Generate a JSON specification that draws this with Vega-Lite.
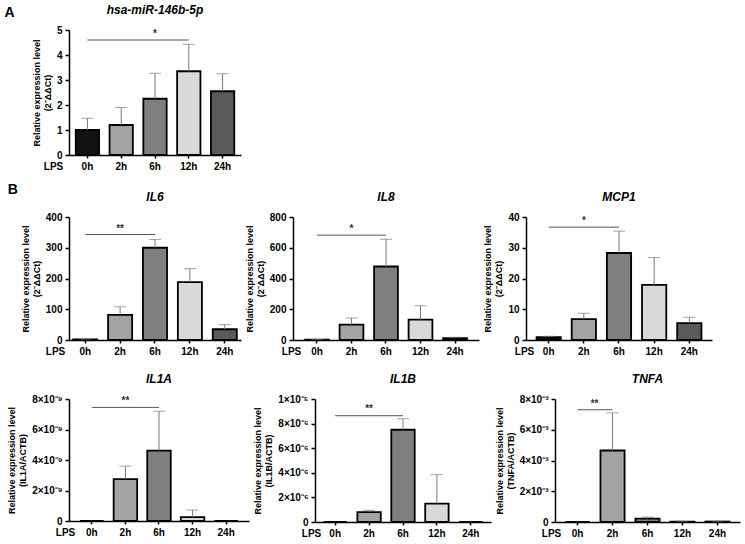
{
  "$schema": "https://vega.github.io/schema/vega-lite/v6.json",
  "background": "white",
  "padding": {"left": 4, "top": 4, "right": 4, "bottom": 2},
  "datasets": {
    "bars": [
      {"gene": "miR146b", "time": "0h", "value": 1.0, "upper": 1.47},
      {"gene": "miR146b", "time": "2h", "value": 1.2, "upper": 1.9},
      {"gene": "miR146b", "time": "6h", "value": 2.25, "upper": 3.27},
      {"gene": "miR146b", "time": "12h", "value": 3.35, "upper": 4.43},
      {"gene": "miR146b", "time": "24h", "value": 2.55, "upper": 3.25},
      {"gene": "IL6", "time": "0h", "value": 2, "upper": 3},
      {"gene": "IL6", "time": "2h", "value": 82, "upper": 108},
      {"gene": "IL6", "time": "6h", "value": 300, "upper": 327},
      {"gene": "IL6", "time": "12h", "value": 188, "upper": 232},
      {"gene": "IL6", "time": "24h", "value": 35, "upper": 50},
      {"gene": "IL8", "time": "0h", "value": 3, "upper": 4},
      {"gene": "IL8", "time": "2h", "value": 100, "upper": 143},
      {"gene": "IL8", "time": "6h", "value": 478, "upper": 655},
      {"gene": "IL8", "time": "12h", "value": 133, "upper": 223},
      {"gene": "IL8", "time": "24h", "value": 12, "upper": 18},
      {"gene": "MCP1", "time": "0h", "value": 0.9, "upper": 1.2},
      {"gene": "MCP1", "time": "2h", "value": 6.8, "upper": 8.7},
      {"gene": "MCP1", "time": "6h", "value": 28.3, "upper": 35.4},
      {"gene": "MCP1", "time": "12h", "value": 17.9, "upper": 26.8},
      {"gene": "MCP1", "time": "24h", "value": 5.5, "upper": 7.4},
      {"gene": "IL1A", "time": "0h", "value": 0, "upper": 0},
      {"gene": "IL1A", "time": "2h", "value": 2.75e-9, "upper": 3.6e-9},
      {"gene": "IL1A", "time": "6h", "value": 4.62e-9, "upper": 7.2e-9},
      {"gene": "IL1A", "time": "12h", "value": 0.25e-9, "upper": 0.72e-9},
      {"gene": "IL1A", "time": "24h", "value": 0, "upper": 0},
      {"gene": "IL1B", "time": "0h", "value": 0, "upper": 0},
      {"gene": "IL1B", "time": "2h", "value": 0.8e-6, "upper": 0.95e-6},
      {"gene": "IL1B", "time": "6h", "value": 7.5e-6, "upper": 8.4e-6},
      {"gene": "IL1B", "time": "12h", "value": 1.5e-6, "upper": 3.85e-6},
      {"gene": "IL1B", "time": "24h", "value": 0, "upper": 0},
      {"gene": "TNFA", "time": "0h", "value": 0, "upper": 0},
      {"gene": "TNFA", "time": "2h", "value": 4.65e-3, "upper": 7.1e-3},
      {"gene": "TNFA", "time": "6h", "value": 0.22e-3, "upper": 0.32e-3},
      {"gene": "TNFA", "time": "12h", "value": 0.03e-3, "upper": 0.05e-3},
      {"gene": "TNFA", "time": "24h", "value": 0.03e-3, "upper": 0.05e-3}
    ],
    "sig": [
      {"gene": "miR146b", "from": "0h", "to": "12h", "mid": "6h", "y": 4.6, "ystar": 4.85, "label": "*"},
      {"gene": "IL6", "from": "0h", "to": "6h", "mid": "2h", "y": 343, "ystar": 362, "label": "**"},
      {"gene": "IL8", "from": "0h", "to": "6h", "mid": "2h", "y": 682, "ystar": 722, "label": "*"},
      {"gene": "MCP1", "from": "0h", "to": "6h", "mid": "2h", "y": 36.7, "ystar": 38.7, "label": "*"},
      {"gene": "IL1A", "from": "0h", "to": "6h", "mid": "2h", "y": 7.45e-9, "ystar": 7.85e-9, "label": "**"},
      {"gene": "IL1B", "from": "0h", "to": "6h", "mid": "2h", "y": 8.64e-6, "ystar": 9.15e-6, "label": "**"},
      {"gene": "TNFA", "from": "0h", "to": "2h", "mid": "0h", "y": 7.3e-3, "ystar": 7.7e-3, "label": "**"}
    ]
  },
  "spacing": 12,
  "vconcat": [
    {
      "title": {"text": "A", "anchor": "start", "fontStyle": "normal", "fontSize": 14, "offset": -16, "dx": -28},
      "vconcat": [
        {
          "width": 172,
          "height": 125,
          "title": "hsa-miR-146b-5p",
          "layer": [
            {
              "data": {"name": "bars"},
              "transform": [{"filter": "datum.gene === 'miR146b'"}],
              "mark": {"type": "bar", "stroke": "black", "strokeWidth": 1.8},
              "encoding": {
                "x": {"field": "time", "type": "nominal", "title": "LPS", "scale": {"domain": ["0h", "2h", "6h", "12h", "24h"], "paddingInner": 0.31, "paddingOuter": 0.2}, "axis": {"labelAngle": 0, "tickSize": 3, "titleX": -16, "titleY": 11, "titleAlign": "center", "titleBaseline": "middle", "titleFontSize": 10}},
                "y": {"field": "value", "type": "quantitative", "title": ["Relative expression level", "(2⁻ΔΔCt)"], "scale": {"domain": [0, 5], "nice": false}, "axis": {"values": [0, 1, 2, 3, 4, 5]}},
                "color": {"field": "time", "type": "nominal", "scale": {"domain": ["0h", "2h", "6h", "12h", "24h"], "range": ["#111111", "#a3a3a3", "#7f7f7f", "#d9d9d9", "#5a5a5a"]}, "legend": null}
              }
            },
            {
              "data": {"name": "bars"},
              "transform": [{"filter": "datum.gene === 'miR146b' && datum.upper > datum.value"}],
              "mark": {"type": "rule", "color": "#7a7a7a", "strokeWidth": 1},
              "encoding": {
                "x": {"field": "time", "type": "nominal", "title": "LPS"},
                "y": {"field": "value", "type": "quantitative", "axis": {"values": [0, 1, 2, 3, 4, 5]}},
                "y2": {"field": "upper"}
              }
            },
            {
              "data": {"name": "bars"},
              "transform": [{"filter": "datum.gene === 'miR146b' && datum.upper > datum.value"}],
              "mark": {"type": "tick", "color": "#7a7a7a", "thickness": 1},
              "encoding": {
                "x": {"field": "time", "type": "nominal", "title": "LPS"},
                "y": {"field": "upper", "type": "quantitative", "axis": {"values": [0, 1, 2, 3, 4, 5]}},
                "size": {"value": 12}
              }
            },
            {
              "data": {"name": "sig"},
              "transform": [{"filter": "datum.gene === 'miR146b'"}],
              "mark": {"type": "rule", "color": "#555555", "strokeWidth": 1},
              "encoding": {
                "x": {"field": "from", "type": "nominal", "title": "LPS"},
                "x2": {"field": "to"},
                "y": {"field": "y", "type": "quantitative", "axis": {"values": [0, 1, 2, 3, 4, 5]}}
              }
            },
            {
              "data": {"name": "sig"},
              "transform": [{"filter": "datum.gene === 'miR146b'"}],
              "mark": {"type": "text", "fontSize": 10, "fontWeight": "bold", "color": "#333333", "baseline": "middle"},
              "encoding": {
                "x": {"field": "mid", "type": "nominal", "title": "LPS"},
                "y": {"field": "ystar", "type": "quantitative", "axis": {"values": [0, 1, 2, 3, 4, 5]}},
                "text": {"field": "label"}
              }
            }
          ]
        }
      ]
    },
    {
      "title": {"text": "B", "anchor": "start", "fontStyle": "normal", "fontSize": 14, "offset": -6},
      "spacing": 17,
      "vconcat": [
        {
          "spacing": 4,
          "hconcat": [
            {
              "width": 172,
              "height": 123,
              "title": "IL6",
              "layer": [
                {
                  "data": {"name": "bars"},
                  "transform": [{"filter": "datum.gene === 'IL6'"}],
                  "mark": {"type": "bar", "stroke": "black", "strokeWidth": 1.8},
                  "encoding": {
                    "x": {"field": "time", "type": "nominal", "title": "LPS", "scale": {"domain": ["0h", "2h", "6h", "12h", "24h"], "paddingInner": 0.31, "paddingOuter": 0.12}, "axis": {"labelAngle": 0, "tickSize": 3, "titleX": -14, "titleY": 11, "titleAlign": "center", "titleBaseline": "middle", "titleFontSize": 10}},
                    "y": {"field": "value", "type": "quantitative", "title": ["Relative expression level", "(2⁻ΔΔCt)"], "scale": {"domain": [0, 400], "nice": false}, "axis": {"values": [0, 100, 200, 300, 400]}},
                    "color": {"field": "time", "type": "nominal", "scale": {"domain": ["0h", "2h", "6h", "12h", "24h"], "range": ["#111111", "#a3a3a3", "#7f7f7f", "#d9d9d9", "#5a5a5a"]}, "legend": null}
                  }
                },
                {
                  "data": {"name": "bars"},
                  "transform": [{"filter": "datum.gene === 'IL6' && datum.upper > datum.value"}],
                  "mark": {"type": "rule", "color": "#7a7a7a", "strokeWidth": 1},
                  "encoding": {
                    "x": {"field": "time", "type": "nominal", "title": "LPS"},
                    "y": {"field": "value", "type": "quantitative", "axis": {"values": [0, 100, 200, 300, 400]}},
                    "y2": {"field": "upper"}
                  }
                },
                {
                  "data": {"name": "bars"},
                  "transform": [{"filter": "datum.gene === 'IL6' && datum.upper > datum.value"}],
                  "mark": {"type": "tick", "color": "#7a7a7a", "thickness": 1},
                  "encoding": {
                    "x": {"field": "time", "type": "nominal", "title": "LPS"},
                    "y": {"field": "upper", "type": "quantitative", "axis": {"values": [0, 100, 200, 300, 400]}},
                    "size": {"value": 12}
                  }
                },
                {
                  "data": {"name": "sig"},
                  "transform": [{"filter": "datum.gene === 'IL6'"}],
                  "mark": {"type": "rule", "color": "#555555", "strokeWidth": 1},
                  "encoding": {
                    "x": {"field": "from", "type": "nominal", "title": "LPS"},
                    "x2": {"field": "to"},
                    "y": {"field": "y", "type": "quantitative", "axis": {"values": [0, 100, 200, 300, 400]}}
                  }
                },
                {
                  "data": {"name": "sig"},
                  "transform": [{"filter": "datum.gene === 'IL6'"}],
                  "mark": {"type": "text", "fontSize": 10, "fontWeight": "bold", "color": "#333333", "baseline": "middle"},
                  "encoding": {
                    "x": {"field": "mid", "type": "nominal", "title": "LPS"},
                    "y": {"field": "ystar", "type": "quantitative", "axis": {"values": [0, 100, 200, 300, 400]}},
                    "text": {"field": "label"}
                  }
                }
              ]
            },
            {
              "width": 186,
              "height": 123,
              "title": "IL8",
              "layer": [
                {
                  "data": {"name": "bars"},
                  "transform": [{"filter": "datum.gene === 'IL8'"}],
                  "mark": {"type": "bar", "stroke": "black", "strokeWidth": 1.8},
                  "encoding": {
                    "x": {"field": "time", "type": "nominal", "title": "LPS", "scale": {"domain": ["0h", "2h", "6h", "12h", "24h"], "paddingInner": 0.31, "paddingOuter": 0.35}, "axis": {"labelAngle": 0, "tickSize": 3, "titleX": -2, "titleY": 11, "titleAlign": "center", "titleBaseline": "middle", "titleFontSize": 10}},
                    "y": {"field": "value", "type": "quantitative", "title": ["Relative expression level", "(2⁻ΔΔCt)"], "scale": {"domain": [0, 800], "nice": false}, "axis": {"values": [0, 200, 400, 600, 800]}},
                    "color": {"field": "time", "type": "nominal", "scale": {"domain": ["0h", "2h", "6h", "12h", "24h"], "range": ["#111111", "#a3a3a3", "#7f7f7f", "#d9d9d9", "#5a5a5a"]}, "legend": null}
                  }
                },
                {
                  "data": {"name": "bars"},
                  "transform": [{"filter": "datum.gene === 'IL8' && datum.upper > datum.value"}],
                  "mark": {"type": "rule", "color": "#7a7a7a", "strokeWidth": 1},
                  "encoding": {
                    "x": {"field": "time", "type": "nominal", "title": "LPS"},
                    "y": {"field": "value", "type": "quantitative", "axis": {"values": [0, 200, 400, 600, 800]}},
                    "y2": {"field": "upper"}
                  }
                },
                {
                  "data": {"name": "bars"},
                  "transform": [{"filter": "datum.gene === 'IL8' && datum.upper > datum.value"}],
                  "mark": {"type": "tick", "color": "#7a7a7a", "thickness": 1},
                  "encoding": {
                    "x": {"field": "time", "type": "nominal", "title": "LPS"},
                    "y": {"field": "upper", "type": "quantitative", "axis": {"values": [0, 200, 400, 600, 800]}},
                    "size": {"value": 12}
                  }
                },
                {
                  "data": {"name": "sig"},
                  "transform": [{"filter": "datum.gene === 'IL8'"}],
                  "mark": {"type": "rule", "color": "#555555", "strokeWidth": 1},
                  "encoding": {
                    "x": {"field": "from", "type": "nominal", "title": "LPS"},
                    "x2": {"field": "to"},
                    "y": {"field": "y", "type": "quantitative", "axis": {"values": [0, 200, 400, 600, 800]}}
                  }
                },
                {
                  "data": {"name": "sig"},
                  "transform": [{"filter": "datum.gene === 'IL8'"}],
                  "mark": {"type": "text", "fontSize": 10, "fontWeight": "bold", "color": "#333333", "baseline": "middle"},
                  "encoding": {
                    "x": {"field": "mid", "type": "nominal", "title": "LPS"},
                    "y": {"field": "ystar", "type": "quantitative", "axis": {"values": [0, 200, 400, 600, 800]}},
                    "text": {"field": "label"}
                  }
                }
              ]
            },
            {
              "width": 186,
              "height": 123,
              "title": "MCP1",
              "layer": [
                {
                  "data": {"name": "bars"},
                  "transform": [{"filter": "datum.gene === 'MCP1'"}],
                  "mark": {"type": "bar", "stroke": "black", "strokeWidth": 1.8},
                  "encoding": {
                    "x": {"field": "time", "type": "nominal", "title": "LPS", "scale": {"domain": ["0h", "2h", "6h", "12h", "24h"], "paddingInner": 0.31, "paddingOuter": 0.3}, "axis": {"labelAngle": 0, "tickSize": 3, "titleX": -2, "titleY": 11, "titleAlign": "center", "titleBaseline": "middle", "titleFontSize": 10}},
                    "y": {"field": "value", "type": "quantitative", "title": ["Relative expression level", "(2⁻ΔΔCt)"], "scale": {"domain": [0, 40], "nice": false}, "axis": {"values": [0, 10, 20, 30, 40]}},
                    "color": {"field": "time", "type": "nominal", "scale": {"domain": ["0h", "2h", "6h", "12h", "24h"], "range": ["#111111", "#a3a3a3", "#7f7f7f", "#d9d9d9", "#5a5a5a"]}, "legend": null}
                  }
                },
                {
                  "data": {"name": "bars"},
                  "transform": [{"filter": "datum.gene === 'MCP1' && datum.upper > datum.value"}],
                  "mark": {"type": "rule", "color": "#7a7a7a", "strokeWidth": 1},
                  "encoding": {
                    "x": {"field": "time", "type": "nominal", "title": "LPS"},
                    "y": {"field": "value", "type": "quantitative", "axis": {"values": [0, 10, 20, 30, 40]}},
                    "y2": {"field": "upper"}
                  }
                },
                {
                  "data": {"name": "bars"},
                  "transform": [{"filter": "datum.gene === 'MCP1' && datum.upper > datum.value"}],
                  "mark": {"type": "tick", "color": "#7a7a7a", "thickness": 1},
                  "encoding": {
                    "x": {"field": "time", "type": "nominal", "title": "LPS"},
                    "y": {"field": "upper", "type": "quantitative", "axis": {"values": [0, 10, 20, 30, 40]}},
                    "size": {"value": 12}
                  }
                },
                {
                  "data": {"name": "sig"},
                  "transform": [{"filter": "datum.gene === 'MCP1'"}],
                  "mark": {"type": "rule", "color": "#555555", "strokeWidth": 1},
                  "encoding": {
                    "x": {"field": "from", "type": "nominal", "title": "LPS"},
                    "x2": {"field": "to"},
                    "y": {"field": "y", "type": "quantitative", "axis": {"values": [0, 10, 20, 30, 40]}}
                  }
                },
                {
                  "data": {"name": "sig"},
                  "transform": [{"filter": "datum.gene === 'MCP1'"}],
                  "mark": {"type": "text", "fontSize": 10, "fontWeight": "bold", "color": "#333333", "baseline": "middle"},
                  "encoding": {
                    "x": {"field": "mid", "type": "nominal", "title": "LPS"},
                    "y": {"field": "ystar", "type": "quantitative", "axis": {"values": [0, 10, 20, 30, 40]}},
                    "text": {"field": "label"}
                  }
                }
              ]
            }
          ]
        },
        {
          "spacing": 4,
          "hconcat": [
            {
              "width": 180,
              "height": 122,
              "title": "IL1A",
              "layer": [
                {
                  "data": {"name": "bars"},
                  "transform": [{"filter": "datum.gene === 'IL1A'"}],
                  "mark": {"type": "bar", "stroke": "black", "strokeWidth": 1.8},
                  "encoding": {
                    "x": {"field": "time", "type": "nominal", "title": "LPS", "scale": {"domain": ["0h", "2h", "6h", "12h", "24h"], "paddingInner": 0.3, "paddingOuter": 0.33}, "axis": {"labelAngle": 0, "tickSize": 3, "titleX": -4, "titleY": 11, "titleAlign": "center", "titleBaseline": "middle", "titleFontSize": 10}},
                    "y": {"field": "value", "type": "quantitative", "title": ["Relative expression level", "(IL1A/ACTB)"], "scale": {"domain": [0, 8e-9], "nice": false}, "axis": {"values": [0, 2e-9, 4e-9, 6e-9, 8e-9], "labelExpr": "datum.value === 0 ? '0' : format(datum.value * 1e9, '.0f') + '×10⁻⁹'"}},
                    "color": {"field": "time", "type": "nominal", "scale": {"domain": ["0h", "2h", "6h", "12h", "24h"], "range": ["#111111", "#a3a3a3", "#7f7f7f", "#d9d9d9", "#5a5a5a"]}, "legend": null}
                  }
                },
                {
                  "data": {"name": "bars"},
                  "transform": [{"filter": "datum.gene === 'IL1A' && datum.upper > datum.value"}],
                  "mark": {"type": "rule", "color": "#7a7a7a", "strokeWidth": 1},
                  "encoding": {
                    "x": {"field": "time", "type": "nominal", "title": "LPS"},
                    "y": {"field": "value", "type": "quantitative", "axis": {"values": [0, 2e-9, 4e-9, 6e-9, 8e-9]}},
                    "y2": {"field": "upper"}
                  }
                },
                {
                  "data": {"name": "bars"},
                  "transform": [{"filter": "datum.gene === 'IL1A' && datum.upper > datum.value"}],
                  "mark": {"type": "tick", "color": "#7a7a7a", "thickness": 1},
                  "encoding": {
                    "x": {"field": "time", "type": "nominal", "title": "LPS"},
                    "y": {"field": "upper", "type": "quantitative", "axis": {"values": [0, 2e-9, 4e-9, 6e-9, 8e-9]}},
                    "size": {"value": 12}
                  }
                },
                {
                  "data": {"name": "sig"},
                  "transform": [{"filter": "datum.gene === 'IL1A'"}],
                  "mark": {"type": "rule", "color": "#555555", "strokeWidth": 1},
                  "encoding": {
                    "x": {"field": "from", "type": "nominal", "title": "LPS"},
                    "x2": {"field": "to"},
                    "y": {"field": "y", "type": "quantitative", "axis": {"values": [0, 2e-9, 4e-9, 6e-9, 8e-9]}}
                  }
                },
                {
                  "data": {"name": "sig"},
                  "transform": [{"filter": "datum.gene === 'IL1A'"}],
                  "mark": {"type": "text", "fontSize": 10, "fontWeight": "bold", "color": "#333333", "baseline": "middle"},
                  "encoding": {
                    "x": {"field": "mid", "type": "nominal", "title": "LPS"},
                    "y": {"field": "ystar", "type": "quantitative", "axis": {"values": [0, 2e-9, 4e-9, 6e-9, 8e-9]}},
                    "text": {"field": "label"}
                  }
                }
              ]
            },
            {
              "width": 176,
              "height": 123,
              "title": "IL1B",
              "layer": [
                {
                  "data": {"name": "bars"},
                  "transform": [{"filter": "datum.gene === 'IL1B'"}],
                  "mark": {"type": "bar", "stroke": "black", "strokeWidth": 1.8},
                  "encoding": {
                    "x": {"field": "time", "type": "nominal", "title": "LPS", "scale": {"domain": ["0h", "2h", "6h", "12h", "24h"], "paddingInner": 0.31, "paddingOuter": 0.25}, "axis": {"labelAngle": 0, "tickSize": 3, "titleX": -4, "titleY": 11, "titleAlign": "center", "titleBaseline": "middle", "titleFontSize": 10}},
                    "y": {"field": "value", "type": "quantitative", "title": ["Relative expression level", "(IL1B/ACTB)"], "scale": {"domain": [0, 1e-5], "nice": false}, "axis": {"values": [0, 2e-6, 4e-6, 6e-6, 8e-6, 1e-5], "labelExpr": "datum.value === 0 ? '0' : datum.value > 9.5e-6 ? '1×10⁻⁵' : format(datum.value * 1e6, '.0f') + '×10⁻⁶'"}},
                    "color": {"field": "time", "type": "nominal", "scale": {"domain": ["0h", "2h", "6h", "12h", "24h"], "range": ["#111111", "#a3a3a3", "#7f7f7f", "#d9d9d9", "#5a5a5a"]}, "legend": null}
                  }
                },
                {
                  "data": {"name": "bars"},
                  "transform": [{"filter": "datum.gene === 'IL1B' && datum.upper > datum.value"}],
                  "mark": {"type": "rule", "color": "#7a7a7a", "strokeWidth": 1},
                  "encoding": {
                    "x": {"field": "time", "type": "nominal", "title": "LPS"},
                    "y": {"field": "value", "type": "quantitative", "axis": {"values": [0, 2e-6, 4e-6, 6e-6, 8e-6, 1e-5]}},
                    "y2": {"field": "upper"}
                  }
                },
                {
                  "data": {"name": "bars"},
                  "transform": [{"filter": "datum.gene === 'IL1B' && datum.upper > datum.value"}],
                  "mark": {"type": "tick", "color": "#7a7a7a", "thickness": 1},
                  "encoding": {
                    "x": {"field": "time", "type": "nominal", "title": "LPS"},
                    "y": {"field": "upper", "type": "quantitative", "axis": {"values": [0, 2e-6, 4e-6, 6e-6, 8e-6, 1e-5]}},
                    "size": {"value": 12}
                  }
                },
                {
                  "data": {"name": "sig"},
                  "transform": [{"filter": "datum.gene === 'IL1B'"}],
                  "mark": {"type": "rule", "color": "#555555", "strokeWidth": 1},
                  "encoding": {
                    "x": {"field": "from", "type": "nominal", "title": "LPS"},
                    "x2": {"field": "to"},
                    "y": {"field": "y", "type": "quantitative", "axis": {"values": [0, 2e-6, 4e-6, 6e-6, 8e-6, 1e-5]}}
                  }
                },
                {
                  "data": {"name": "sig"},
                  "transform": [{"filter": "datum.gene === 'IL1B'"}],
                  "mark": {"type": "text", "fontSize": 10, "fontWeight": "bold", "color": "#333333", "baseline": "middle"},
                  "encoding": {
                    "x": {"field": "mid", "type": "nominal", "title": "LPS"},
                    "y": {"field": "ystar", "type": "quantitative", "axis": {"values": [0, 2e-6, 4e-6, 6e-6, 8e-6, 1e-5]}},
                    "text": {"field": "label"}
                  }
                }
              ]
            },
            {
              "width": 185,
              "height": 123,
              "title": "TNFA",
              "layer": [
                {
                  "data": {"name": "bars"},
                  "transform": [{"filter": "datum.gene === 'TNFA'"}],
                  "mark": {"type": "bar", "stroke": "black", "strokeWidth": 1.8},
                  "encoding": {
                    "x": {"field": "time", "type": "nominal", "title": "LPS", "scale": {"domain": ["0h", "2h", "6h", "12h", "24h"], "paddingInner": 0.31, "paddingOuter": 0.3}, "axis": {"labelAngle": 0, "tickSize": 3, "titleX": -4, "titleY": 11, "titleAlign": "center", "titleBaseline": "middle", "titleFontSize": 10}},
                    "y": {"field": "value", "type": "quantitative", "title": ["Relative expression level", "(TNFA/ACTB)"], "scale": {"domain": [0, 8e-3], "nice": false}, "axis": {"values": [0, 2e-3, 4e-3, 6e-3, 8e-3], "labelExpr": "datum.value === 0 ? '0' : format(datum.value * 1e3, '.0f') + '×10⁻³'"}},
                    "color": {"field": "time", "type": "nominal", "scale": {"domain": ["0h", "2h", "6h", "12h", "24h"], "range": ["#111111", "#a3a3a3", "#7f7f7f", "#d9d9d9", "#5a5a5a"]}, "legend": null}
                  }
                },
                {
                  "data": {"name": "bars"},
                  "transform": [{"filter": "datum.gene === 'TNFA' && datum.upper > datum.value"}],
                  "mark": {"type": "rule", "color": "#7a7a7a", "strokeWidth": 1},
                  "encoding": {
                    "x": {"field": "time", "type": "nominal", "title": "LPS"},
                    "y": {"field": "value", "type": "quantitative", "axis": {"values": [0, 2e-3, 4e-3, 6e-3, 8e-3]}},
                    "y2": {"field": "upper"}
                  }
                },
                {
                  "data": {"name": "bars"},
                  "transform": [{"filter": "datum.gene === 'TNFA' && datum.upper > datum.value"}],
                  "mark": {"type": "tick", "color": "#7a7a7a", "thickness": 1},
                  "encoding": {
                    "x": {"field": "time", "type": "nominal", "title": "LPS"},
                    "y": {"field": "upper", "type": "quantitative", "axis": {"values": [0, 2e-3, 4e-3, 6e-3, 8e-3]}},
                    "size": {"value": 12}
                  }
                },
                {
                  "data": {"name": "sig"},
                  "transform": [{"filter": "datum.gene === 'TNFA'"}],
                  "mark": {"type": "rule", "color": "#555555", "strokeWidth": 1},
                  "encoding": {
                    "x": {"field": "from", "type": "nominal", "title": "LPS"},
                    "x2": {"field": "to"},
                    "y": {"field": "y", "type": "quantitative", "axis": {"values": [0, 2e-3, 4e-3, 6e-3, 8e-3]}}
                  }
                },
                {
                  "data": {"name": "sig"},
                  "transform": [{"filter": "datum.gene === 'TNFA'"}],
                  "mark": {"type": "text", "fontSize": 10, "fontWeight": "bold", "color": "#333333", "baseline": "middle", "dx": 17},
                  "encoding": {
                    "x": {"field": "mid", "type": "nominal", "title": "LPS"},
                    "y": {"field": "ystar", "type": "quantitative", "axis": {"values": [0, 2e-3, 4e-3, 6e-3, 8e-3]}},
                    "text": {"field": "label"}
                  }
                }
              ]
            }
          ]
        }
      ]
    }
  ],
  "config": {
    "font": "Liberation Sans",
    "view": {"stroke": null},
    "axis": {
      "grid": false,
      "domainColor": "black",
      "domainWidth": 1.5,
      "tickColor": "black",
      "tickWidth": 1.5,
      "tickSize": 4,
      "labelColor": "black",
      "labelFontWeight": "bold",
      "labelFontSize": 10,
      "labelPadding": 3,
      "labelOverlap": false,
      "titleColor": "black",
      "titleFontWeight": "bold",
      "titleFontSize": 9,
      "titlePadding": 4
    },
    "title": {"fontStyle": "italic", "fontWeight": "bold", "fontSize": 12, "color": "black", "offset": 8}
  }
}
